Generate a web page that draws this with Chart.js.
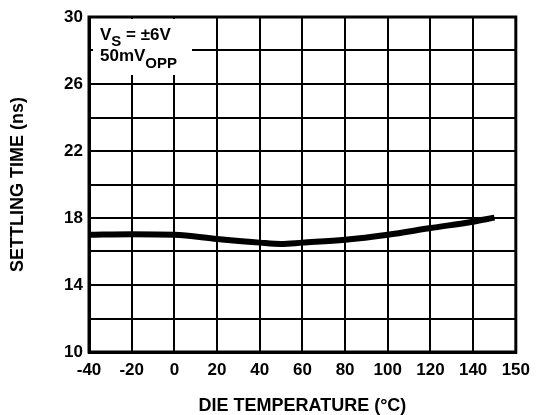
<!DOCTYPE html>
<html>
<head>
<meta charset="utf-8">
<script src="https://cdn.jsdelivr.net/npm/chart.js@4.4.1/dist/chart.umd.min.js"></script>
<style>
  html, body { margin: 0; padding: 0; background: #fff; }
  #wrap { width: 538px; height: 415px; }
</style>
</head>
<body>
<div id="wrap"><canvas id="c" width="538" height="415"></canvas></div>
<script>
// Settling time vs die temperature
const temperatures = [-40, -20, 0, 20, 40, 50, 60, 80, 100, 120, 140, 150];
const settlingTime = [17.0, 17.03, 17.0, 16.75, 16.53, 16.45, 16.53, 16.7, 17.0, 17.4, 17.78, 18.02];
const xTickLabels = ['-40', '-20', '0', '20', '40', '60', '80', '100', '120', '140', '150'];
const yTickLabels = ['10', '14', '18', '22', '26', '30'];

const FONT = "'Liberation Sans', Arial, sans-serif";

// Frame around the plot area and the test-condition note in the top-left corner
const framePlugin = {
  id: 'frame',
  afterDraw(chart) {
    const { ctx, chartArea: a } = chart;
    ctx.save();
    ctx.strokeStyle = '#000';
    ctx.lineWidth = 3;
    ctx.strokeRect(a.left, a.top, a.right - a.left, a.bottom - a.top);

    // condition note
    ctx.fillStyle = '#fff';
    ctx.fillRect(a.left + 4, a.top + 2, 99, 56);
    ctx.fillStyle = '#000';
    ctx.textBaseline = 'alphabetic';
    ctx.textAlign = 'left';
    let x = a.left + 11;
    let y = a.top + 23;
    ctx.font = 'bold 17px ' + FONT;
    ctx.fillText('V', x, y);
    x += ctx.measureText('V').width;
    ctx.font = 'bold 15px ' + FONT;
    ctx.fillText('S', x, y + 6);
    x += ctx.measureText('S').width;
    ctx.font = 'bold 17px ' + FONT;
    ctx.fillText(' = \u00B16V', x, y);

    x = a.left + 11;
    y = a.top + 44;
    ctx.font = 'bold 17px ' + FONT;
    ctx.fillText('50mV', x, y);
    x += ctx.measureText('50mV').width;
    ctx.font = 'bold 15px ' + FONT;
    ctx.fillText('OPP', x, y + 7);
    ctx.restore();
  }
};

new Chart(document.getElementById('c'), {
  type: 'line',
  data: {
    datasets: [{
      data: temperatures.map((t, i) => ({ x: t, y: settlingTime[i] })),
      borderColor: '#000',
      borderWidth: 6,
      pointRadius: 0,
      fill: false,
      cubicInterpolationMode: 'monotone'
    }]
  },
  options: {
    responsive: false,
    animation: false,
    devicePixelRatio: 1,
    layout: { padding: { top: 17, right: 17, left: 0, bottom: 0 } },
    plugins: { legend: { display: false }, tooltip: { enabled: false } },
    scales: {
      x: {
        type: 'linear',
        min: -40,
        max: 160,
        afterBuildTicks(scale) {
          scale.ticks = xTickLabels.map((_, i) => ({ value: -40 + i * 20 }));
        },
        afterFit(scale) { scale.height = 63; },
        ticks: {
          autoSkip: false,
          maxRotation: 0,
          padding: 8,
          color: '#000',
          font: { family: FONT, size: 17, weight: 'bold' },
          callback: (v, i) => xTickLabels[i]
        },
        grid: { color: '#000', lineWidth: 2, drawTicks: false },
        border: { color: '#000', width: 3 },
        title: {
          display: true,
          text: 'DIE TEMPERATURE (\u00B0C)',
          color: '#000',
          font: { family: FONT, size: 18, weight: 'bold', lineHeight: 1 },
          padding: { top: 0, bottom: 0 }
        }
      },
      y: {
        type: 'linear',
        min: 10,
        max: 30,
        afterFit(scale) { scale.width = 89; },
        ticks: {
          stepSize: 2,
          padding: 6,
          color: '#000',
          font: { family: FONT, size: 17, weight: 'bold' },
          callback: (v) => (yTickLabels.includes(String(v)) ? String(v) : '')
        },
        grid: { color: '#000', lineWidth: 2, drawTicks: false },
        border: { color: '#000', width: 3 },
        title: {
          display: true,
          text: 'SETTLING TIME (ns)',
          color: '#000',
          font: { family: FONT, size: 18, weight: 'bold', lineHeight: 1 },
          padding: { top: 9, bottom: 0 }
        }
      }
    }
  },
  plugins: [framePlugin]
});
</script>
</body>
</html>
